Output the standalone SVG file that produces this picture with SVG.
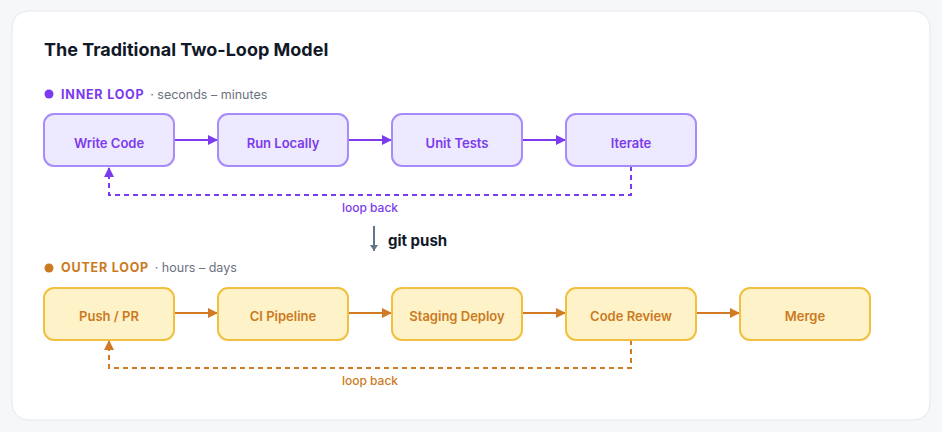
<svg xmlns="http://www.w3.org/2000/svg" width="942" height="432" viewBox="0 0 942 432">
<style>
text{font-family:Inter,"Noto Sans",sans-serif}
.ib{fill:#ede9fe;stroke:#a78bfa;stroke-width:2}
.ob{fill:#fdf2c8;stroke:#f2c040;stroke-width:2}
.it{fill:#7c3aed;font-size:13px;font-weight:600;text-anchor:middle}
.ot{fill:#cc7a22;font-size:13px;font-weight:600;text-anchor:middle}
.ia{stroke:#7c3aed;stroke-width:2;fill:none}
.oa{stroke:#d07a26;stroke-width:2;fill:none}
.d{stroke-dasharray:5 4}
</style>
<defs>
<marker id="mi" markerWidth="10" markerHeight="10" refX="9" refY="5" orient="auto" markerUnits="userSpaceOnUse"><path d="M0,0L10,5L0,10z" fill="#7c3aed"/></marker>
<marker id="mo" markerWidth="10" markerHeight="10" refX="9" refY="5" orient="auto" markerUnits="userSpaceOnUse"><path d="M0,0L10,5L0,10z" fill="#d07a26"/></marker>
<marker id="mg" markerWidth="10" markerHeight="10" refX="5" refY="9" orient="0" markerUnits="userSpaceOnUse"><path d="M1,3L5,9L9,3z" fill="#64748b"/></marker>
</defs>
<rect width="942" height="432" fill="#f6f7f9"/>
<rect x="12" y="11" width="918" height="409" rx="16" fill="#fff" stroke="#e5e7eb"/>
<text x="44" y="56" font-size="18" font-weight="700" fill="#111827">The Traditional Two-Loop Model</text>
<circle cx="49" cy="94" r="4.5" fill="#7c3aed"/>
<text x="61" y="99" font-size="12.5" font-weight="700" fill="#7c3aed" letter-spacing="0.8">INNER LOOP <tspan fill="#6b7280" font-weight="400" letter-spacing="0" dx="2">· seconds – minutes</tspan></text>
<circle cx="49" cy="268" r="4.5" fill="#cc7a22"/>
<text x="61" y="272" font-size="12.5" font-weight="700" fill="#cc7a22" letter-spacing="0.8">OUTER LOOP <tspan fill="#6b7280" font-weight="400" letter-spacing="0" dx="2">· hours – days</tspan></text>
<g id="connectors">
<path class="ia" d="M174,140H217" marker-end="url(#mi)"/>
<path class="ia" d="M348,140H391" marker-end="url(#mi)"/>
<path class="ia" d="M522,140H565" marker-end="url(#mi)"/>
<path class="ia d" d="M631,166V195H109V168" marker-end="url(#mi)"/>
<text x="370" y="212" font-size="12" font-weight="500" fill="#7c3aed" text-anchor="middle">loop back</text>
<path class="oa" d="M174,313H217" marker-end="url(#mo)"/>
<path class="oa" d="M348,313H391" marker-end="url(#mo)"/>
<path class="oa" d="M522,313H565" marker-end="url(#mo)"/>
<path class="oa" d="M696,313H739" marker-end="url(#mo)"/>
<path class="oa d" d="M631,340V368H109V341" marker-end="url(#mo)"/>
<text x="370" y="385" font-size="12" font-weight="500" fill="#cc7a22" text-anchor="middle">loop back</text>
<path d="M374,226V251" stroke="#64748b" stroke-width="2" marker-end="url(#mg)"/>
<text x="388" y="246" font-size="15" font-weight="700" fill="#111827">git push</text>
</g>
<g id="n1"><rect class="ib" x="44" y="114" width="130" height="52" rx="10"/><text class="it" x="109" y="148">Write Code</text></g>
<g id="n2"><rect class="ib" x="218" y="114" width="130" height="52" rx="10"/><text class="it" x="283" y="148">Run Locally</text></g>
<g id="n3"><rect class="ib" x="392" y="114" width="130" height="52" rx="10"/><text class="it" x="457" y="148">Unit Tests</text></g>
<g id="n4"><rect class="ib" x="566" y="114" width="130" height="52" rx="10"/><text class="it" x="631" y="148">Iterate</text></g>
<g id="o1"><rect class="ob" x="44" y="288" width="130" height="52" rx="10"/><text class="ot" x="109" y="321">Push / PR</text></g>
<g id="o2"><rect class="ob" x="218" y="288" width="130" height="52" rx="10"/><text class="ot" x="283" y="321">CI Pipeline</text></g>
<g id="o3"><rect class="ob" x="392" y="288" width="130" height="52" rx="10"/><text class="ot" x="457" y="321">Staging Deploy</text></g>
<g id="o4"><rect class="ob" x="566" y="288" width="130" height="52" rx="10"/><text class="ot" x="631" y="321">Code Review</text></g>
<g id="o5"><rect class="ob" x="740" y="288" width="130" height="52" rx="10"/><text class="ot" x="805" y="321">Merge</text></g>
</svg>
